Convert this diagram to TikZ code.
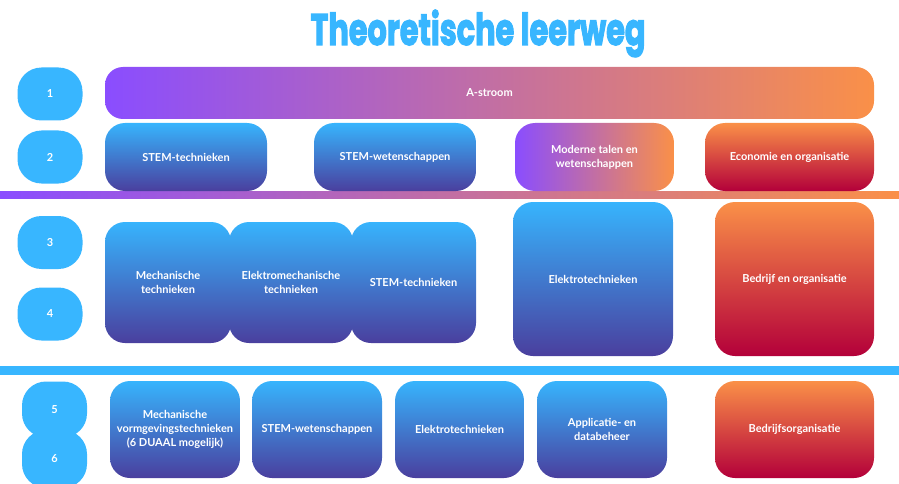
\documentclass[tikz,border=0pt]{standalone}
\usepackage{fontspec}
\usepackage{graphicx}
\setmainfont{Lato}
\newfontfamily\titlefont{Poppins}[BoldFeatures={FakeBold=3}]
\definecolor{lblue}{HTML}{38B6FF}
\definecolor{bluetop}{HTML}{37B4FD}
\definecolor{bluebot}{HTML}{4A3F9E}
\definecolor{purp}{HTML}{8A4DFF}
\definecolor{orng}{HTML}{FA9048}
\definecolor{crim}{HTML}{B3003A}
\tikzset{
  lbl/.style={text=white, align=center, inner sep=0pt, font=\bfseries\fontsize{11}{14}\selectfont},
  badge/.style={lbl, fill=lblue, rounded corners=24pt, minimum width=65pt, minimum height=53pt},
  bluebox/.style={lbl, top color=bluetop, bottom color=bluebot, rounded corners=20pt},
  redbox/.style={lbl, top color=orng, bottom color=crim, rounded corners=20pt},
  hbox/.style={lbl, left color=purp, right color=orng, rounded corners=20pt},
  sz/.style 2 args={minimum width=#1pt, minimum height=#2pt}
}
\begin{document}
\begin{tikzpicture}[x=1pt,y=-1pt]
\useasboundingbox (0,0) rectangle (899,484);
\clip (0,0) rectangle (899,484);
% title
\node[anchor=base, text=lblue, inner sep=0pt] (title) at (478,45)
  {\resizebox{335pt}{\height}{\titlefont\bfseries\fontsize{44}{44}\selectfont Theoretische leerweg}};
% separator bars
\node[left color=purp, right color=orng, minimum width=899pt, minimum height=7pt, inner sep=0pt] (bar1) at (449.5,194.5) {};
\node[fill=lblue, minimum width=899pt, minimum height=9pt, inner sep=0pt] (bar2) at (449.5,370.5) {};
% badges
\node[badge] (b1) at (50,94) {1};
\node[badge] (b2) at (50,157) {2};
\node[badge] (b3) at (50,242.5) {3};
\node[badge] (b4) at (50,314) {4};
\node[badge, minimum height=56pt] (b5) at (54.5,409.5) {5};
\node[badge, minimum height=58pt] (b6) at (54.5,459) {6};
% row 1
\node[hbox, rounded corners=18pt, sz={769}{52}] (astroom) at (489.5,93) {A-stroom};
% row 2
\node[bluebox, sz={162}{68}] (r2a) at (186,157) {STEM-technieken};
\node[bluebox, sz={162}{68}] (r2b) at (395,157) {STEM-wetenschappen};
\node[hbox, sz={159}{68}] (r2c) at (594.5,157) {Moderne talen en\\wetenschappen};
\node[redbox, sz={169}{68}] (r2d) at (789.5,157) {Economie en organisatie};
% rows 3-4
\node[bluebox, sz={126}{121}] (r3a) at (168,282.5) {Mechanische\\technieken};
\node[bluebox, sz={124}{121}] (r3b) at (291,282.5) {Elektromechanische\\technieken};
\node[bluebox, sz={125}{121}] (r3c) at (413.5,282.5) {STEM-technieken};
\node[bluebox, sz={160}{154}] (r3d) at (593,279) {Elektrotechnieken};
\node[redbox, sz={159}{154}] (r3e) at (794.5,279) {Bedrijf en organisatie};
% rows 5-6
\node[bluebox, sz={130}{97}] (r5a) at (175,429.5) {Mechanische\\vormgevingstechnieken\\(6 DUAAL mogelijk)};
\node[bluebox, sz={130}{97}] (r5b) at (317,429.5) {STEM-wetenschappen};
\node[bluebox, sz={129}{97}] (r5c) at (459.5,429.5) {Elektrotechnieken};
\node[bluebox, sz={130}{97}] (r5d) at (602,429.5) {Applicatie- en\\databeheer};
\node[redbox, sz={159}{97}] (r5e) at (794.5,429.5) {Bedrijfsorganisatie};
\end{tikzpicture}
\end{document}
